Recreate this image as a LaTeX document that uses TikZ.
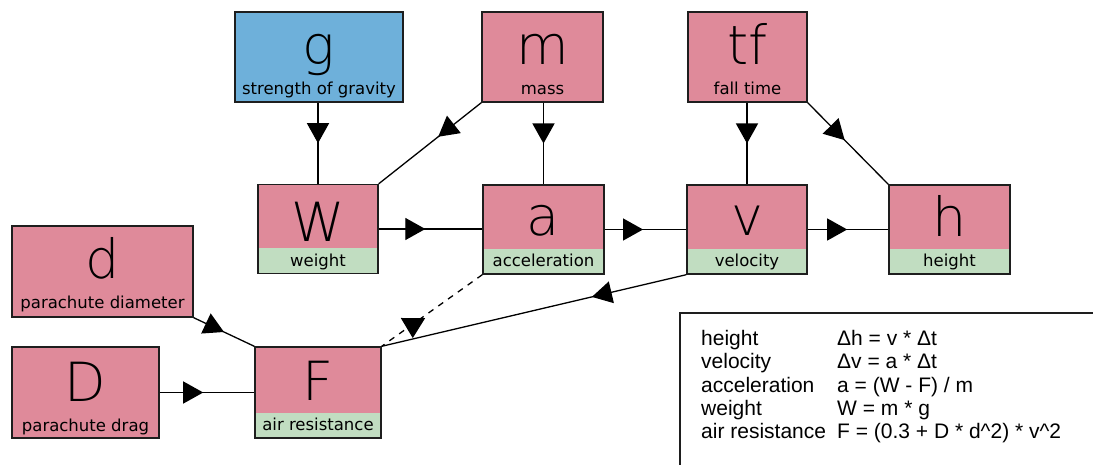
\documentclass[tikz,border=0pt]{standalone}
\usepackage{fontspec}
\setmainfont{Liberation Sans}
\newfontfamily\labelfont{DejaVu Sans}
\newfontfamily\bigfont{DejaVuSans-ExtraLight.ttf}
\usetikzlibrary{arrows.meta,decorations.markings,calc}
\definecolor{pinkbox}{RGB}{223,138,154}
\definecolor{greenbox}{RGB}{193,221,193}
\definecolor{bluebox}{RGB}{110,176,218}
\definecolor{edgecol}{RGB}{30,30,30}
\newcommand{\eqlabel}[1]{\makebox[136pt][l]{#1}}
\tikzset{
  box/.style={draw=edgecol, line width=1.4pt, minimum width=120pt, minimum height=89pt, inner sep=0pt, fill=pinkbox},
  gbox/.style={box, path picture={\fill[greenbox] ($(path picture bounding box.south west)+(0,-25)$) rectangle (path picture bounding box.south east);}},
  big/.style={anchor=base, inner sep=0pt, font=\bigfont\fontsize{54}{60}\selectfont},
  lab/.style={anchor=base, inner sep=0pt, font=\labelfont\fontsize{16.5}{18}\selectfont},
  conn/.style={line width=1.3pt, draw=black},
  arrowat/.style={postaction={decorate}, decoration={markings, mark=at position #1 with {\arrow{Triangle[length=20pt,width=22pt]}}}},
  arrowdown/.style={postaction={decorate}, decoration={markings, mark=at position #1 with {\pgftransformrotate{54}\pgftransformxshift{14pt}\arrow{Triangle[length=20pt,width=24pt]}}}},
}
\begin{document}
\begin{tikzpicture}[x=1pt,y=-1pt]
\useasboundingbox (0,0) rectangle (1093,465);
% boxes
\node[box, fill=bluebox, minimum width=168pt, minimum height=90pt] (g) at (319,57) {};
\node[box, minimum width=121pt, minimum height=90pt] (m) at (542.5,57) {};
\node[box, minimum width=119pt, minimum height=90pt] (tf) at (747.5,57) {};
\node[gbox] (W) at (318,229) {};
\node[gbox, minimum width=121pt] (a) at (543.5,229.5) {};
\node[gbox] (v) at (747,229.5) {};
\node[gbox, minimum width=121pt] (h) at (949.5,229.5) {};
\node[box, minimum width=181pt, minimum height=91pt] (d) at (102.5,271.5) {};
\node[box, minimum width=147pt, minimum height=91pt] (D) at (85.5,392.5) {};
\node[gbox, minimum width=126pt, minimum height=91pt] (F) at (318,392.5) {};
% big letters
\node[big] (gL) at ($(g.north)+(0,53)$) {g};
\node[big] (mL) at ($(m.north)+(0,53)$) {m};
\node[big] (tfL) at ($(tf.north)+(0,53)$) {tf};
\node[big] (WL) at ($(W.north)+(0,58)$) {W};
\node[big] (aL) at ($(a.north)+(0,51)$) {a};
\node[big] (vL) at ($(v.north)+(0,51)$) {v};
\node[big] (hL) at ($(h.north)+(0,52)$) {h};
\node[big] (dL) at ($(d.north)+(0,53)$) {d};
\node[big] (DL) at ($(D.north)+(0,55)$) {D};
\node[big] (FL) at ($(F.north)+(0,54)$) {F};
% small labels
\node[lab] (gT) at ($(g.south)+(0,-8.5)$) {strength of gravity};
\node[lab] (mT) at ($(m.south)+(0,-8.5)$) {mass};
\node[lab] (tfT) at ($(tf.south)+(0,-8.5)$) {fall time};
\node[lab] (WT) at ($(W.south)+(0,-8)$) {weight};
\node[lab] (aT) at ($(a.south)+(0,-8)$) {acceleration};
\node[lab] (vT) at ($(v.south)+(0,-8)$) {velocity};
\node[lab] (hT) at ($(h.south)+(0,-8)$) {height};
\node[lab] (dT) at ($(d.south)+(0,-9)$) {parachute diameter};
\node[lab] (DT) at ($(D.south)+(0,-7)$) {parachute drag};
\node[lab] (FT) at ($(F.south)+(0,-8)$) {air resistance};
% connectors
\draw[conn, arrowat=0.5] (W.north |- g.south) -- (W.north);
\draw[conn, arrowat=0.5] (a.north |- m.south) -- (a.north);
\draw[conn, arrowat=0.5] (v.north |- tf.south) -- (v.north);
\draw[conn, arrowat=0.42] (m.south west) -- (W.north east);
\draw[conn, arrowat=0.46] (tf.south east) -- (h.north west);
\draw[conn, arrowat=0.45] (W.east) -- (W.east -| a.west);
\draw[conn, arrowat=0.47] (a.east) -- (a.east -| v.west);
\draw[conn, arrowat=0.49] (v.east) -- (v.east -| h.west);
\draw[conn, arrowat=0.5] (d.south east) -- (F.north west);
\draw[conn, arrowat=0.46] (D.east) -- (D.east -| F.west);
\draw[conn, dash pattern=on 6pt off 6pt, arrowdown=0.69] (a.south west) -- (F.north east);
\draw[conn, arrowat=0.31] (v.south west) -- (F.north east);
% equations panel
\coordinate (eqtl) at (680,313);
\coordinate (eqtr) at (1096,313);
\coordinate (eqbl) at (680,468);
\draw[line width=1.4pt, edgecol] (eqtr) -- (eqtl) -- (eqbl);
\node[anchor=base west, inner sep=0pt, font=\fontsize{21}{23.2}\selectfont] (eqs) at (701,345.7)
{\begin{tabular}[t]{@{}l@{}}
\eqlabel{height}Δh = v * Δt\\
\eqlabel{velocity}Δv = a * Δt\\
\eqlabel{acceleration}a = (W - F) / m\\
\eqlabel{weight}W = m * g\\
\eqlabel{air resistance}F = (0.3 + D * d\textasciicircum 2) * v\textasciicircum 2
\end{tabular}};
\end{tikzpicture}
\end{document}
